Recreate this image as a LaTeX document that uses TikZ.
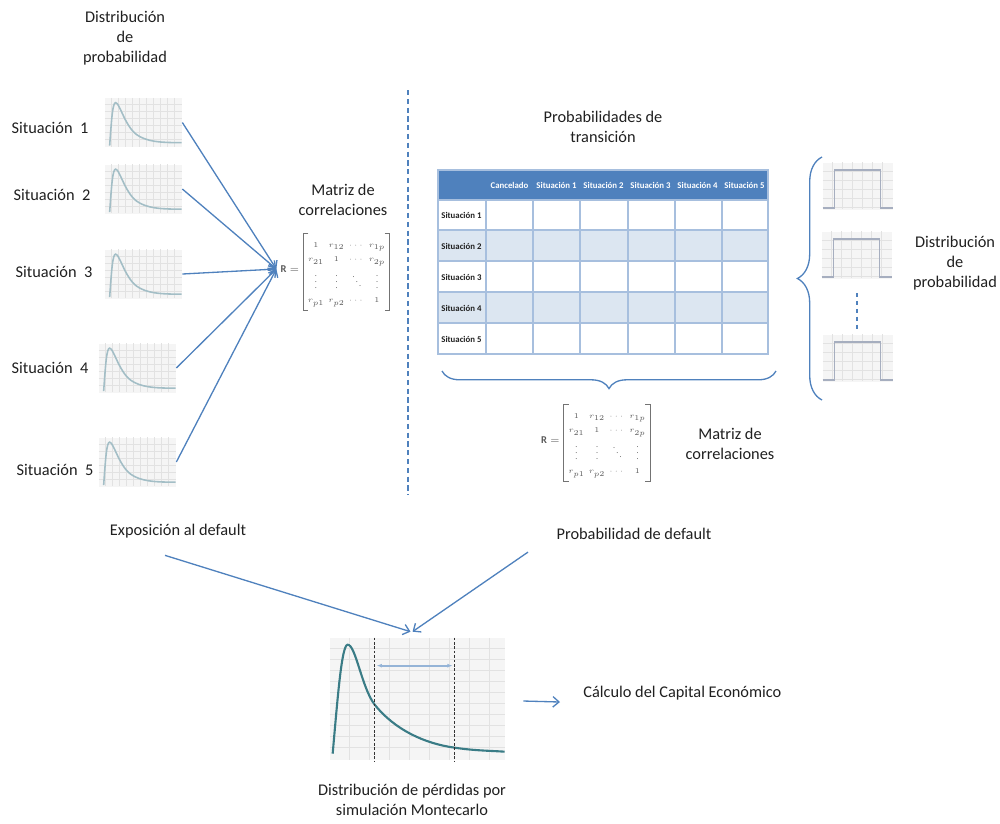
\documentclass[tikz,border=0pt]{standalone}
\usepackage{fontspec}
\usepackage{amsmath}
\setmainfont{Carlito}
\usetikzlibrary{arrows.meta,decorations.pathreplacing,positioning}

\definecolor{flecha}{HTML}{4F81BD}
\definecolor{rejilla}{HTML}{E2E2E2}
\definecolor{fondo}{HTML}{F5F5F5}
\definecolor{curva}{HTML}{A3BEC6}
\definecolor{curvaperd}{HTML}{3A7C86}
\definecolor{escalon}{HTML}{A6AEBF}
\definecolor{franja}{HTML}{DCE6F1}
\definecolor{borde}{HTML}{A7BFDE}
\definecolor{texto}{HTML}{202020}

\tikzset{
  etiqueta/.style={font=\fontsize{9.3}{11.4}\selectfont, text=texto, align=center, inner sep=0pt},
  flechaazul/.style={draw=flecha, line width=0.75pt, -{Straight Barb[length=3.5pt,width=6pt]}},
  sesgo/.style={fill=fondo, minimum width=1.54cm, minimum height=0.98cm, inner sep=0pt},
  uniforme/.style={fill=fondo, minimum width=1.4cm, minimum height=0.94cm, inner sep=0pt},
  perdidas/.style={fill=fondo, minimum width=3.5cm, minimum height=2.44cm, inner sep=0pt},
  celda/.style={font=\fontsize{5}{6}\selectfont\bfseries, inner sep=0pt},
  matriz/.style={font=\fontsize{5.4}{6.2}\selectfont, text=black!65, inner sep=0pt, scale=0.85, transform shape},
  corchete/.style={draw=black!55, line width=0.5pt},
  llave/.style={draw=flecha, line width=0.75pt, decorate, decoration={brace, amplitude=#1}},
}

% grafico de distribucion sesgada
\newcommand{\curvasesgo}[2]{%
  \node[sesgo] (#1) at (#2) {};
  \begin{scope}[shift={(#1.north west)}]
    \foreach \i in {7,14,...,70} \draw[rejilla, line width=0.3pt] (\i,0) -- (\i,49);
    \foreach \j in {7,14,...,42} \draw[rejilla, line width=0.3pt] (0,\j) -- (77,\j);
    \draw[curva, line width=0.9pt] (5,48) .. controls (7,20) and (8,5) .. (11,5)
      .. controls (15,5) and (20,28) .. (32,37) .. controls (42,44) and (55,45) .. (77,45);
  \end{scope}}

% grafico de distribucion uniforme
\newcommand{\curvaunif}[2]{%
  \node[uniforme] (#1) at (#2) {};
  \begin{scope}[shift={(#1.north west)}]
    \foreach \i in {10,20,...,60} \draw[rejilla, line width=0.3pt] (\i,0) -- (\i,47);
    \foreach \j in {9,18,...,45} \draw[rejilla, line width=0.3pt] (0,\j) -- (70,\j);
    \draw[escalon, line width=0.9pt] (0,46) -- (12,46) -- (12,8) -- (58,8) -- (58,46) -- (70,46);
  \end{scope}}

\newcommand{\matcorr}{%
  {\renewcommand{\arraystretch}{1.6}\setlength{\arraycolsep}{1.4pt}%
  $\begin{array}{cccc}
    1 & r_{12} & \cdots & r_{1p}\\
    r_{21} & 1 & \cdots & r_{2p}\\
    \vdots & \vdots & \ddots & \vdots\\
    r_{p1} & r_{p2} & \cdots & 1
  \end{array}$}}

\begin{document}
\begin{tikzpicture}[x=0.02cm, y=-0.02cm]
  \useasboundingbox (0,0) rectangle (1000,823);

  % lado izquierdo
  \node[etiqueta] (distizq) at (125,38) {Distribución\\de\\probabilidad};
  \node[etiqueta] (sit1) at (50,128) {Situación\ \ 1};
  \node[etiqueta] (sit2) at (52,195) {Situación\ \ 2};
  \node[etiqueta] (sit3) at (54,272) {Situación\ \ 3};
  \node[etiqueta] (sit4) at (50,368) {Situación\ \ 4};
  \node[etiqueta] (sit5) at (55,470) {Situación\ \ 5};

  \curvasesgo{g1}{143.5,122.5}
  \curvasesgo{g2}{143.5,189}
  \curvasesgo{g3}{143.5,274}
  \curvasesgo{g4}{137.5,368}
  \curvasesgo{g5}{137.5,462}

  \node[etiqueta] (matizq) at (343,200) {Matriz de\\correlaciones};

  % matrices de correlaciones
  \foreach \n/\x/\y in {corr1/346.5/272, corr2/607/443} {
    \node[matriz] (\n) at (\x,\y) {\matcorr};
    \node[matriz, anchor=east, font=\fontsize{7}{8}\selectfont] (R\n) at ([shift={(-6,-3)}]\n.west) {$\mathbf{R}=$};
    \draw[corchete] ([shift={(3,-3)}]\n.north west) -- ([shift={(-2,-3)}]\n.north west)
      -- ([shift={(-2,3)}]\n.south west) -- ([shift={(3,3)}]\n.south west);
    \draw[corchete] ([shift={(-3,-3)}]\n.north east) -- ([shift={(2,-3)}]\n.north east)
      -- ([shift={(2,3)}]\n.south east) -- ([shift={(-3,3)}]\n.south east);
  }

  \foreach \g in {g1,g2,g3,g4,g5}
    \draw[flechaazul] (\g.east) -- ([shift={(-4,0)}]Rcorr1.west);

  \draw[flecha, line width=0.75pt, dash pattern=on 3pt off 2pt] (408,90) -- (408,495);

  % lado derecho
  \node[etiqueta] (probtrans) at (603,127) {Probabilidades de\\transición};

  \fill[flecha] (438,170) rectangle (768,200);
  \fill[franja] (438,230) rectangle (768,261);
  \fill[franja] (438,292) rectangle (768,323);
  \foreach \x in {486,533,580,628,675,722}
    \draw[borde, line width=0.8pt] (\x,200) -- (\x,354);
  \foreach \y in {200,230,261,292,323}
    \draw[borde, line width=0.8pt] (438,\y) -- (768,\y);
  \draw[borde, line width=0.8pt] (438,170) rectangle (768,354);
  \foreach \t [count=\k] in {Cancelado,Situación 1,Situación 2,Situación 3,Situación 4,Situación 5}
    \node[celda, text=white] (col\k) at (462.5+47*\k,185) {\t};
  \foreach \k in {1,...,5}
    \node[celda, text=texto, anchor=west] (fila\k) at (441,184.5+31*\k) {Situación \k};

  \draw[llave=10pt] (776,371) -- (442,371);
  \node[etiqueta] (matder) at (730,444) {Matriz de\\correlaciones};

  \draw[llave=14pt] (822,400) -- (822,157);
  \curvaunif{u1}{858,186}
  \curvaunif{u2}{857,255}
  \curvaunif{u3}{858,358}
  \draw[flecha, line width=0.75pt, dash pattern=on 2.5pt off 2pt] (857,293) -- (857,329);
  \node[etiqueta] (distder) at (955,263) {Distribución\\de\\probabilidad};

  % parte inferior
  \node[etiqueta] (expo) at (178,531) {Exposición al default};
  \node[etiqueta] (probdef) at (634,534) {Probabilidad de default};

  \node[perdidas] (perd) at (417.5,699) {};
  \begin{scope}[shift={(perd.north west)}]
    \foreach \i in {20,40,...,160} \draw[rejilla, line width=0.3pt] (\i,0) -- (\i,122);
    \foreach \j in {11,22,...,110} \draw[rejilla, line width=0.3pt] (0,\j) -- (175,\j);
    \draw[curvaperd, line width=1.2pt] (3,116) .. controls (8,60) and (12,7) .. (18,7)
      .. controls (26,7) and (32,50) .. (45,67) .. controls (65,92) and (95,106) .. (125,110)
      .. controls (145,113) and (160,113) .. (175,114);
    \draw[black!80, line width=0.6pt, dash pattern=on 1.5pt off 1pt] (45,0) -- (45,124);
    \draw[black!80, line width=0.6pt, dash pattern=on 1.5pt off 1pt] (125,0) -- (125,124);
    \draw[flecha!60, line width=1.1pt, {Latex[length=3pt]}-{Latex[length=3pt]}] (47,28) -- (123,28);
  \end{scope}

  \draw[flechaazul] ([shift={(-13,17)}]expo.south) -- ([shift={(-7,-6)}]perd.north);
  \draw[flechaazul] ([shift={(-106,12)}]probdef.south) -- ([shift={(-5,-6)}]perd.north);

  \node[etiqueta, anchor=west] (capital) at (583,693) {Cálculo del Capital Económico};
  \draw[flechaazul] ([shift={(18,2)}]perd.east) -- ([shift={(-23,9)}]capital.west);

  \node[etiqueta] (montecarlo) at (412,800) {Distribución de pérdidas por\\simulación Montecarlo};
\end{tikzpicture}
\end{document}
